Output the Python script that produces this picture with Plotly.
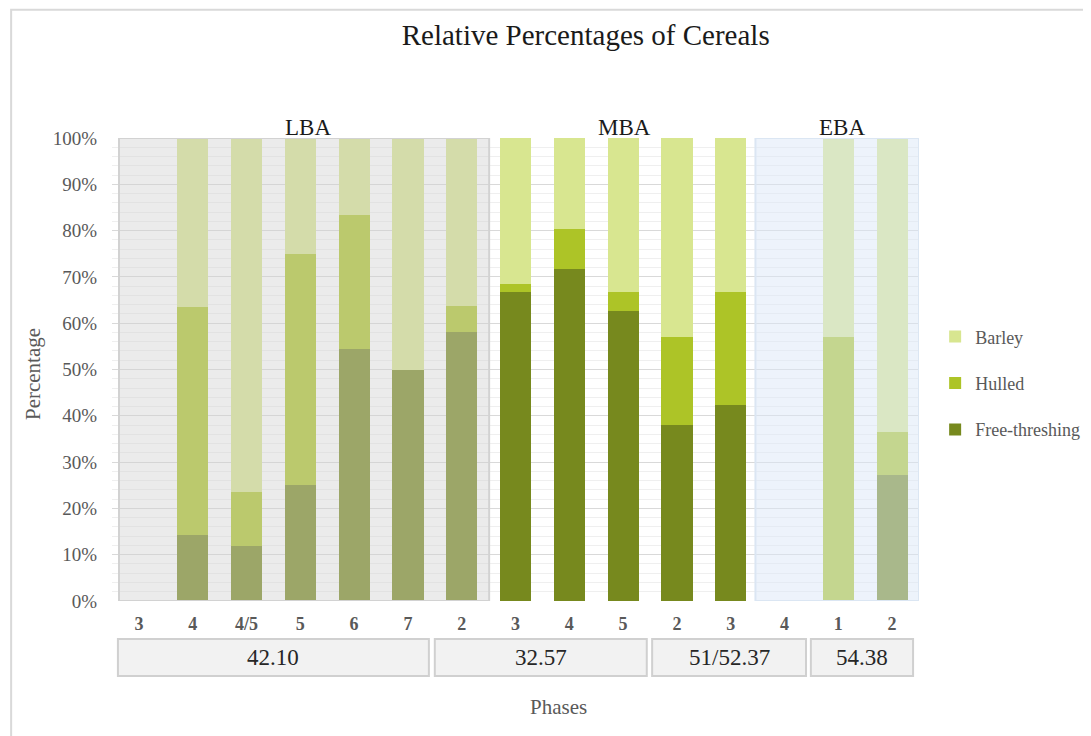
import plotly.graph_objects as go

# phase labels along the x axis (one bar each)
phases = ["3", "4", "4/5", "5", "6", "7", "2", "3", "4", "5", "2", "3", "4", "1", "2"]

# stacked percentages
free_threshing = [0, 14.3, 11.8, 25.0, 54.5, 50.0, 58.0, 66.7, 71.8, 62.7, 38.1, 42.3, 0, 0, 27.3]
hulled = [0, 49.3, 11.7, 50.0, 28.8, 0, 5.8, 1.8, 8.6, 4.0, 19.0, 24.4, 0, 57.1, 9.1]
barley = [0, 36.4, 76.5, 25.0, 16.7, 50.0, 36.2, 31.5, 19.6, 33.3, 42.9, 33.3, 0, 42.9, 63.6]

periods = ["LBA", "MBA", "EBA"]
sites = ["42.10", "32.57", "51/52.37", "54.38"]

SERIF = "Liberation Serif, Times New Roman, serif"
GREY_TXT = "#595959"

x = list(range(len(phases)))

fig = go.Figure()
series = [("Free-threshing", free_threshing, "#77891e", 3),
          ("Hulled", hulled, "#adc427", 2),
          ("Barley", barley, "#d8e690", 1)]
for name, vals, col, rank in series:
    fig.add_trace(go.Bar(x=x, y=vals, name=name, legendgroup=name, legendrank=rank,
                         marker=dict(color=col, line=dict(width=0)),
                         hovertemplate=name + ': %{y:.1f}%<extra></extra>'))

# shaded period regions drawn over the bars (washed-out look)
period_spans = [(-0.37, 6.51), (6.51, 11.46), (11.46, 14.5)]
period_fill = ["rgba(208,208,208,0.42)", None, "rgba(220,232,248,0.5)"]
period_line = ["#d2d2d2", None, "#dbe6f3"]
shapes = []
for (x0, x1), fc, lc in zip(period_spans, period_fill, period_line):
    if fc is None:
        continue
    shapes.append(dict(type="rect", xref="x", yref="y", x0=x0, x1=x1, y0=0, y1=100,
                       fillcolor=fc, line=dict(color=lc, width=2), layer="above"))

annotations = []
label_x = [3.14, 9.02, 13.07]
for lab, lx in zip(periods, label_x):
    annotations.append(dict(text=lab, x=lx, xref="x", y=1.0, yref="paper", yanchor="bottom", yshift=-4,
                            showarrow=False, font=dict(family=SERIF, size=23, color="#1a1a1a")))

# site boxes under the phase labels
site_spans = [(-0.39, 5.39), (5.50, 9.44), (9.54, 12.40), (12.49, 14.39)]
for lab, (x0, x1) in zip(sites, site_spans):
    shapes.append(dict(type="rect", xref="x", yref="paper", x0=x0, x1=x1, y0=-0.162, y1=-0.082,
                       fillcolor="#f2f2f2", line=dict(color="#d0d0d0", width=2), layer="below"))
    annotations.append(dict(text=lab, x=(x0 + x1) / 2, xref="x", y=-0.122, yref="paper",
                            xanchor="center", yanchor="middle", showarrow=False,
                            font=dict(family=SERIF, size=23, color="#262626")))

# outer chart frame
shapes.append(dict(type="rect", xref="paper", yref="paper", x0=-0.125, x1=1.5, y0=-0.6, y1=1.277,
                   line=dict(color="#d9d9d9", width=2), fillcolor="rgba(0,0,0,0)", layer="below"))

annotations.append(dict(text="Phases", x=0.553, xref="paper", y=-0.23, yref="paper", showarrow=False,
                        xanchor="center", yanchor="middle",
                        font=dict(family=SERIF, size=21, color=GREY_TXT)))
annotations.append(dict(text="Percentage", x=-0.098, xref="paper", y=0.49, yref="paper", showarrow=False,
                        xanchor="center", yanchor="middle",
                        textangle=-90, font=dict(family=SERIF, size=21, color=GREY_TXT)))

# page body adds an 8px offset, margins compensate for it
fig.update_layout(
    width=1091, height=736,
    margin=dict(l=104, r=180, t=130, b=143, autoexpand=False),
    paper_bgcolor="white", plot_bgcolor="white",
    barmode="stack", bargap=0.42,
    title=dict(text="Relative Percentages of Cereals", x=0.587, xref="paper", xanchor="center",
               y=0.963, yref="container", yanchor="middle",
               font=dict(family=SERIF, size=29, color="#1a1a1a")),
    font=dict(family=SERIF, color=GREY_TXT),
    legend=dict(x=1.02, y=0.47, xanchor="left", yanchor="middle", traceorder="grouped",
                tracegroupgap=20, font=dict(family=SERIF, size=18, color=GREY_TXT),
                bgcolor="rgba(0,0,0,0)"),
    shapes=shapes, annotations=annotations,
)
fig.update_xaxes(range=[-0.5, 14.5], tickmode="array", tickvals=x, ticktext=phases,
                 tickfont=dict(family="Liberation Serif", size=18, color=GREY_TXT, weight="bold"),
                 ticks="outside", ticklen=6, tickcolor="rgba(0,0,0,0)", automargin=False,
                 showgrid=False, zeroline=False, showline=False)
fig.update_yaxes(range=[0, 100], dtick=10, ticksuffix="%",
                 tickfont=dict(family=SERIF, size=19, color=GREY_TXT),
                 ticks="outside", ticklen=10, tickcolor="rgba(0,0,0,0)", automargin=False,
                 gridcolor="#d9d9d9", gridwidth=1, zeroline=False, showline=False,
                 minor=dict(dtick=2, showgrid=True, gridcolor="#efefef", gridwidth=1))

fig.write_html("out.html")
